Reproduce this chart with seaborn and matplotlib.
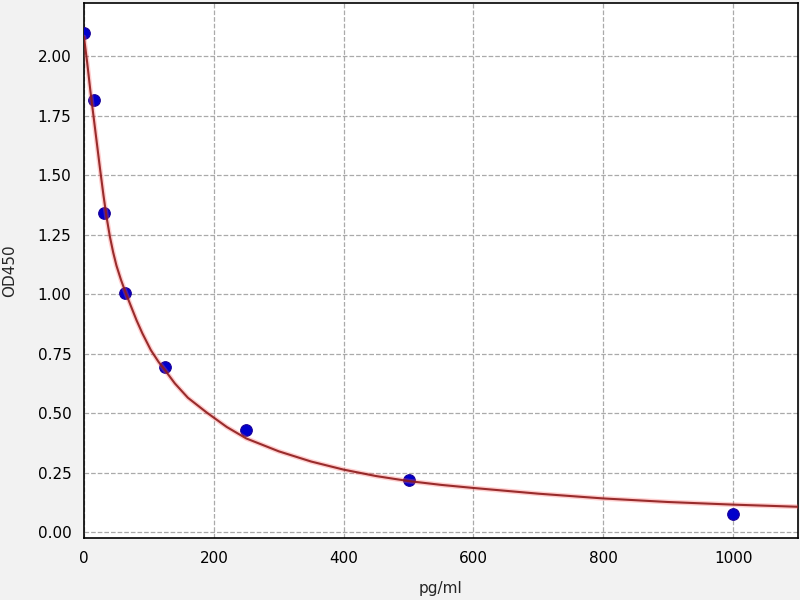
import matplotlib
matplotlib.use('Agg')
import matplotlib.pyplot as plt
import seaborn as sns
import pandas as pd

# standard points
conc = [0, 15.6, 31.25, 62.5, 125, 250, 500, 1000]
od = [2.095, 1.815, 1.34, 1.005, 0.695, 0.43, 0.22, 0.075]

# fitted curve
curve_x = [0, 5, 10, 15, 20, 25, 30, 35, 40, 45, 50, 57, 65, 73, 81, 90, 103, 115,
           125, 140, 160, 189, 220, 250, 300, 350, 400, 450, 500, 550, 600, 700,
           800, 900, 1000, 1100]
curve_y = [2.08, 1.97, 1.85, 1.74, 1.63, 1.52, 1.415, 1.32, 1.24, 1.175, 1.12, 1.06,
           1.00, 0.945, 0.89, 0.835, 0.765, 0.715, 0.68, 0.625, 0.565, 0.503, 0.442,
           0.394, 0.34, 0.297, 0.263, 0.236, 0.215, 0.199, 0.186, 0.162, 0.142,
           0.127, 0.116, 0.107]

pts = pd.DataFrame({'pg/ml': conc, 'OD450': od})
fit = pd.DataFrame({'pg/ml': curve_x, 'OD450': curve_y})

sns.set_style('white')
fig = plt.figure(figsize=(8, 6), dpi=100, facecolor='#f2f2f2')
ax = fig.add_axes([0.105, 0.103, 0.8925, 0.892])

sns.scatterplot(x='pg/ml', y='OD450', data=pts, ax=ax, color='#0000cc',
                edgecolor='#1a0099', s=70, linewidth=0.8, zorder=3)
# soft pink glow under the dark red line
sns.lineplot(x='pg/ml', y='OD450', data=fit, ax=ax, color='#ff6060', linewidth=3.5,
             alpha=0.3, zorder=4)
sns.lineplot(x='pg/ml', y='OD450', data=fit, ax=ax, color='#8e1a1a', linewidth=1.5,
             alpha=0.9, zorder=5)

ax.set_xlim(0, 1100)
ax.set_ylim(-0.025, 2.223)
ax.set_yticks([0, 0.25, 0.5, 0.75, 1.0, 1.25, 1.5, 1.75, 2.0])
ax.set_yticklabels(['0.00', '0.25', '0.50', '0.75', '1.00', '1.25', '1.50', '1.75', '2.00'])
ax.grid(True, linestyle='--', color='#aaaaaa', linewidth=0.9)
ax.tick_params(axis='both', direction='out', length=4, width=1, colors='black',
               labelsize=11, pad=5)
for sp in ax.spines.values():
    sp.set_color('black')
    sp.set_linewidth(1.2)

ax.set_xlabel('pg/ml', fontsize=11)
ax.set_ylabel('OD450', fontsize=11)
ax.xaxis.set_label_coords(0.5, -0.08)
ax.yaxis.set_label_coords(-0.093, 0.5)

fig.savefig('out.png', dpi=100, facecolor=fig.get_facecolor())
